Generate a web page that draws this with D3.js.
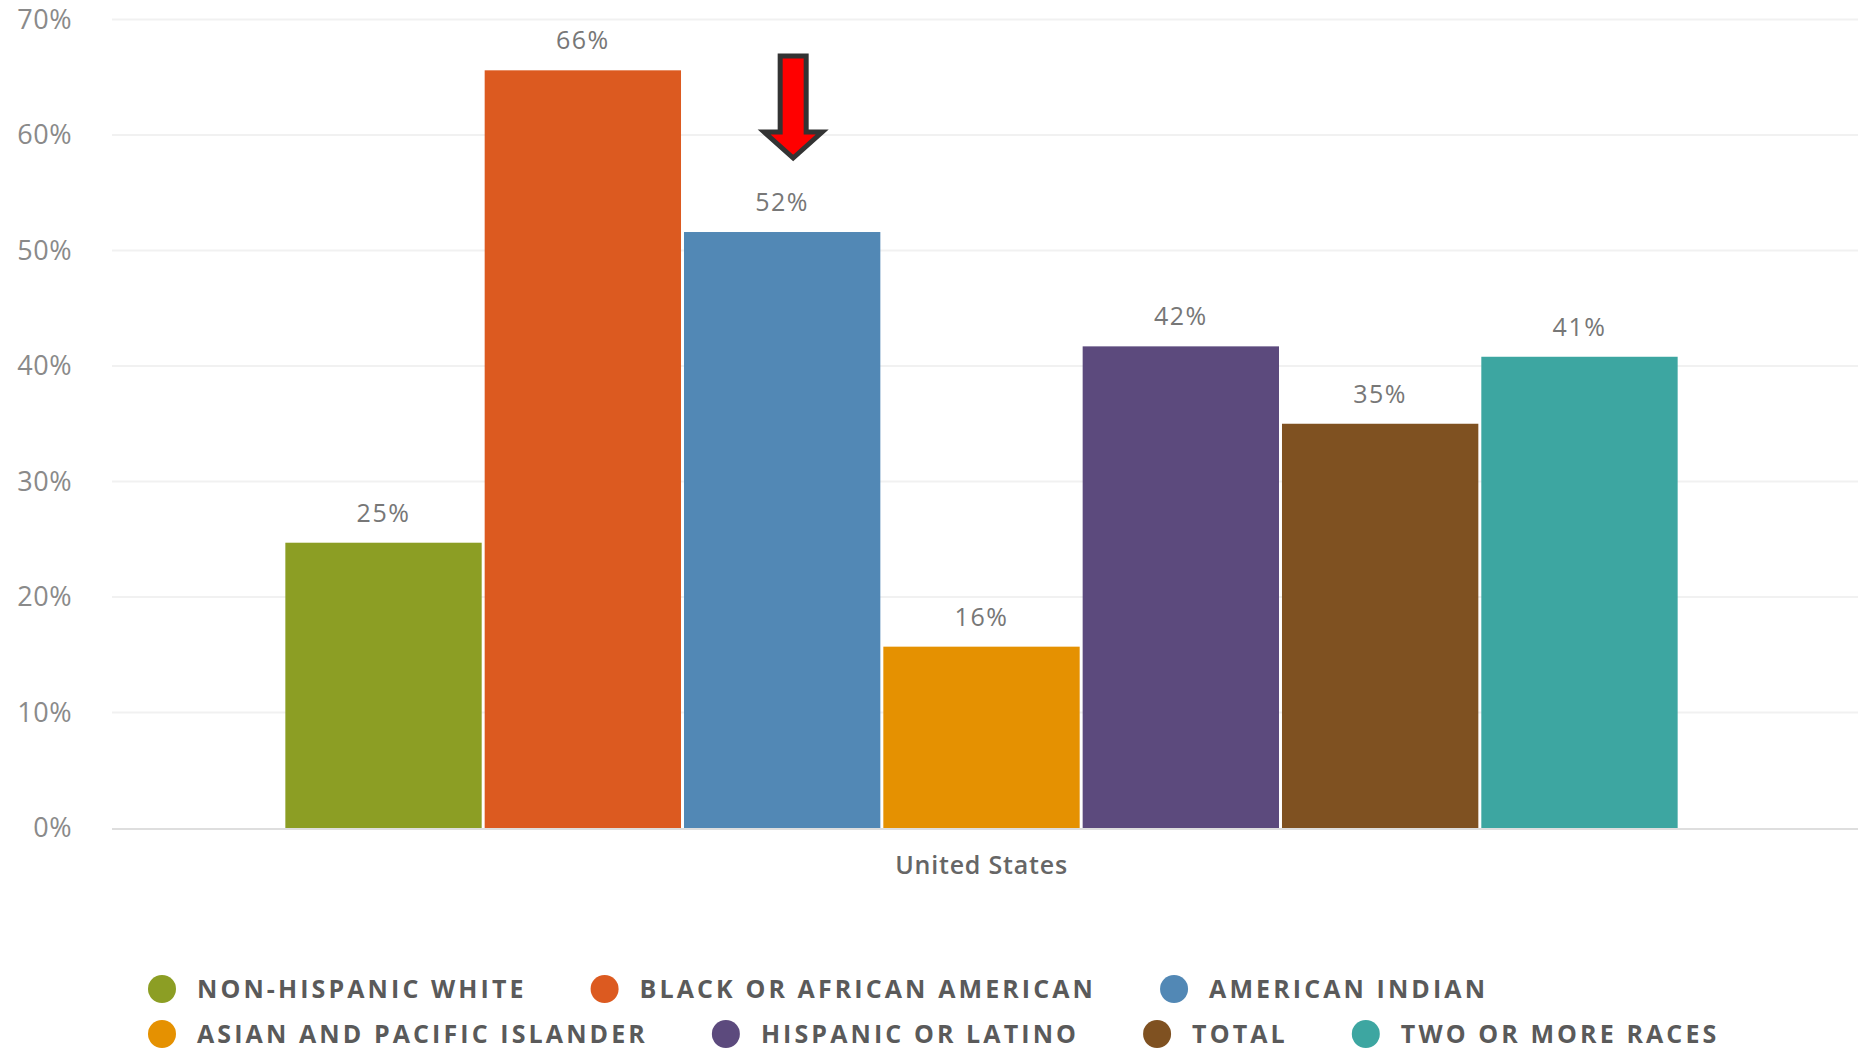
<!DOCTYPE html>
<html>
<head>
<meta charset="utf-8">
<script src="https://cdn.jsdelivr.net/npm/d3@7"></script>
<style>
  html, body { margin: 0; padding: 0; background: #fff; }
  svg { display: block; }
</style>
</head>
<body>
<svg id="chart" width="1862" height="1052"></svg>
<script>
// ---- data ----
const categories = ["United States"];
const seriesNames = [
  "NON-HISPANIC WHITE",
  "BLACK OR AFRICAN AMERICAN",
  "AMERICAN INDIAN",
  "ASIAN AND PACIFIC ISLANDER",
  "HISPANIC OR LATINO",
  "TOTAL",
  "TWO OR MORE RACES"
];
const seriesValues = [24.7, 65.6, 51.6, 15.7, 41.7, 35.0, 40.8];
const seriesColors = ["#8C9E24", "#DC5A20", "#5288B5", "#E59101", "#5C4A7D", "#7F5121", "#3DA6A1"];
const yTickValues = [0, 10, 20, 30, 40, 50, 60, 70];
const legendRows = [[0, 1, 2], [3, 4, 5, 6]];
const highlightedSeries = "AMERICAN INDIAN";

// ---- layout ----
const svg = d3.select("#chart");
const plot = { left: 112, right: 1858, top: 19.5, bottom: 828 };

const y = d3.scaleLinear().domain([0, 70]).range([plot.bottom, plot.top]);
const x0 = d3.scaleBand().domain(categories).range([plot.left, plot.right - 7])
  .paddingInner(0).paddingOuter(0.1245);
const x1 = d3.scaleBand().domain(seriesNames).range([0, x0.bandwidth()])
  .paddingInner(0.015).paddingOuter(0);
const color = d3.scaleOrdinal().domain(seriesNames).range(seriesColors);

// gridlines
svg.append("g").selectAll("line")
  .data(yTickValues.filter(d => d !== 0))
  .join("line")
  .attr("x1", plot.left).attr("x2", plot.right)
  .attr("y1", d => y(d)).attr("y2", d => y(d))
  .attr("stroke", "#f1f1f1").attr("stroke-width", 2);

// y axis labels
const yAxis = d3.axisLeft(y).tickValues(yTickValues).tickFormat(d => d + "%").tickSize(0).tickPadding(0);
const yg = svg.append("g").attr("transform", "translate(72,0)").call(yAxis);
yg.select(".domain").remove();
yg.selectAll("text")
  .attr("font-family", "'Open Sans', sans-serif")
  .attr("font-size", 27)
  .attr("fill", "#8a8a8a")
  .attr("letter-spacing", 0.5);

// bars
const group = svg.append("g").selectAll("g")
  .data(categories)
  .join("g")
  .attr("transform", d => `translate(${x0(d)},0)`);

const barData = seriesNames.map((s, i) => ({ series: s, value: seriesValues[i] }));

group.selectAll("rect")
  .data(barData)
  .join("rect")
  .attr("x", d => x1(d.series))
  .attr("width", x1.bandwidth())
  .attr("y", d => y(d.value))
  .attr("height", d => y(0) - y(d.value))
  .attr("fill", d => color(d.series));

group.selectAll("text.val")
  .data(barData)
  .join("text")
  .attr("class", "val")
  .attr("x", d => x1(d.series) + x1.bandwidth() / 2)
  .attr("y", d => y(d.value) - 21)
  .attr("text-anchor", "middle")
  .attr("font-family", "'Open Sans', sans-serif")
  .attr("font-size", 25)
  .attr("letter-spacing", 1.5)
  .attr("fill", "#777")
  .text(d => Math.round(d.value) + "%");

// baseline
svg.append("line")
  .attr("x1", plot.left).attr("x2", plot.right)
  .attr("y1", y(0) + 1).attr("y2", y(0) + 1)
  .attr("stroke", "#dedede").attr("stroke-width", 2);

// x axis category label
const xAxis = d3.axisBottom(x0).tickSize(0).tickPadding(0);
const xg = svg.append("g").attr("transform", `translate(0,${y(0) + 46})`).call(xAxis);
xg.select(".domain").remove();
xg.selectAll("text")
  .attr("font-family", "'Open Sans', sans-serif")
  .attr("font-size", 25)
  .attr("font-weight", 600)
  .attr("letter-spacing", 0.8)
  .attr("fill", "#666")
  .attr("dy", "0");

// red arrow annotation over highlighted bar
const ax = x0(categories[0]) + x1(highlightedSeries) + x1.bandwidth() / 2 + 11;
const topY = 56, headY = 132, tipY = 158, shaftHW = 13, headHW = 29;
const arrowPath = d3.path();
arrowPath.moveTo(ax - shaftHW, topY);
arrowPath.lineTo(ax + shaftHW, topY);
arrowPath.lineTo(ax + shaftHW, headY);
arrowPath.lineTo(ax + headHW, headY);
arrowPath.lineTo(ax, tipY);
arrowPath.lineTo(ax - headHW, headY);
arrowPath.lineTo(ax - shaftHW, headY);
arrowPath.closePath();
svg.append("path")
  .attr("d", arrowPath.toString())
  .attr("fill", "#ff0000")
  .attr("stroke", "#333")
  .attr("stroke-width", 5)
  .attr("stroke-linejoin", "miter");

// legend
const legend = svg.append("g");
const rowY = [989, 1034];
const r = 14, textOffset = 35, itemGap = 64, startX = 162;
legendRows.forEach((row, ri) => {
  let cx = startX;
  row.forEach(idx => {
    const g = legend.append("g");
    g.append("circle").attr("cx", cx).attr("cy", rowY[ri]).attr("r", r)
      .attr("fill", color(seriesNames[idx]));
    const t = g.append("text")
      .attr("x", cx + textOffset).attr("y", rowY[ri] + 9)
      .attr("font-family", "'Open Sans', sans-serif")
      .attr("font-size", 25)
      .attr("font-weight", 700)
      .attr("letter-spacing", 3.1)
      .attr("fill", "#5a5a5a")
      .text(seriesNames[idx]);
    const w = t.node().getComputedTextLength();
    cx = cx + textOffset + w + itemGap + r;
  });
});
</script>
</body>
</html>
